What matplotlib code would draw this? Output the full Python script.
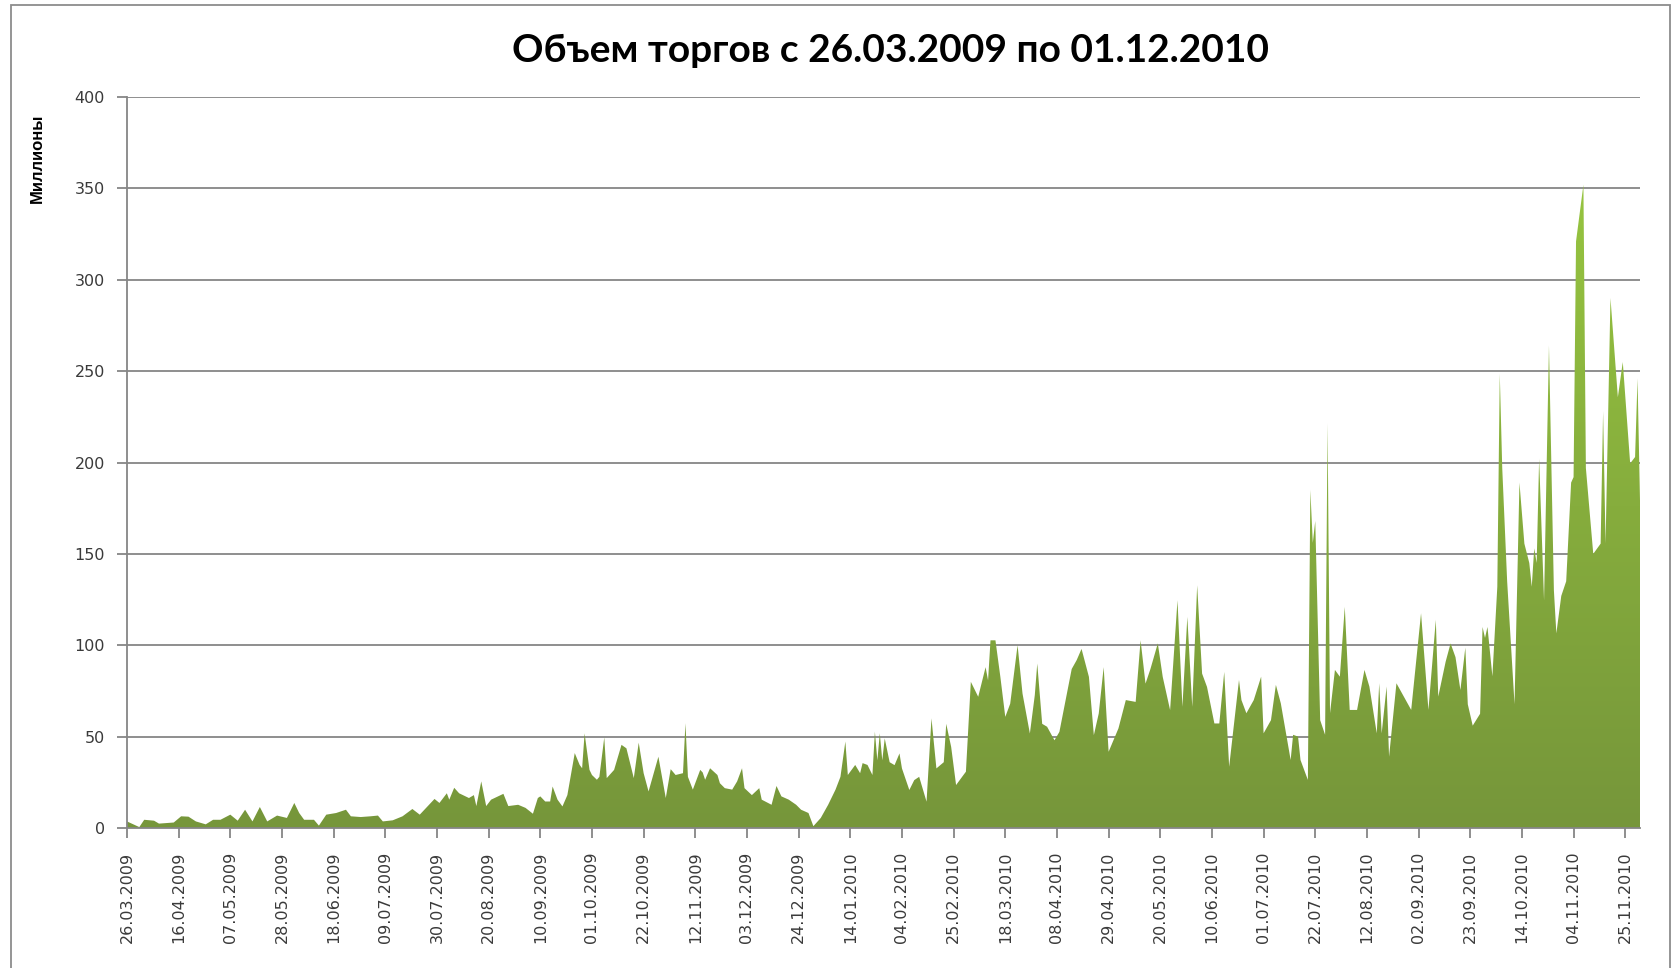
import numpy as np
import pandas as pd
import matplotlib
matplotlib.use('Agg')
import matplotlib.pyplot as plt
import matplotlib.dates as mdates
from matplotlib.colors import LinearSegmentedColormap
from matplotlib.patches import Rectangle

title = 'Объем торгов с 26.03.2009 по 01.12.2010'
ylabel = 'Миллионы'
start = '2009-03-26'
end = '2010-12-01'

# trading day (days after 26.03.2009) and volume in millions
days = [0, 5, 7, 11, 13, 19, 22, 25, 28, 32, 35, 38, 42, 45, 48, 51, 54, 57, 61, 65,
        68, 70, 72, 76, 78, 81, 85, 89, 91, 95, 99, 102, 104, 108, 112, 116, 119, 125, 127, 130,
        131, 133, 135, 139, 141, 142, 144, 146, 148, 153, 155, 159, 162, 165, 167, 168, 170, 172, 173, 175,
        177, 179, 182, 184, 185, 186, 188, 189, 191, 192, 194, 195, 198, 201, 203, 206, 208, 210, 212, 216,
        219, 221, 223, 226, 227, 228, 230, 233, 234, 235, 237, 240, 241, 243, 246, 248, 250, 251, 254, 257,
        258, 262, 264, 266, 269, 272, 274, 277, 279, 282, 285, 288, 290, 292, 293, 296, 298, 299, 301, 303,
        304, 305, 306, 307, 308, 310, 312, 314, 315, 318, 320, 322, 325, 327, 329, 332, 333, 335, 337, 340,
        341, 343, 346, 349, 350, 351, 353, 355, 357, 359, 362, 364, 367, 369, 370, 372, 374, 377, 379, 384,
        386, 388, 391, 393, 395, 397, 399, 403, 406, 410, 412, 414, 416, 419, 421, 424, 427, 429, 431, 433,
        435, 437, 439, 442, 444, 446, 448, 452, 453, 455, 458, 461, 462, 465, 467, 469, 473, 474, 476, 477,
        480, 481, 482, 483, 485, 487, 488, 489, 491, 493, 495, 497, 500, 503, 505, 508, 509, 510, 512, 513,
        516, 522, 526, 529, 532, 533, 536, 538, 540, 542, 544, 545, 547, 550, 551, 552, 553, 555, 557, 558,
        559, 561, 564, 566, 568, 570, 571, 572, 573, 574, 576, 578, 580, 581, 583, 585, 587, 588, 589, 592,
        593, 596, 599, 600, 601, 603, 606, 608, 611, 613, 614, 615]
vols = [3.6, 0.5, 4.5, 4.0, 2.4, 3.0, 6.4, 6.2, 3.6, 2.0, 4.5, 4.5, 7.3, 4.0, 10.0, 3.6, 11.5, 3.6, 6.8, 5.5,
        13.7, 8.2, 4.5, 4.5, 1.3, 7.3, 8.2, 10.0, 6.4, 6.0, 6.4, 6.8, 3.6, 4.2, 6.4, 10.4, 7.3, 15.9, 13.7, 19.0,
        15.5, 22.0, 19.0, 16.4, 18.0, 12.0, 25.5, 12.0, 15.5, 18.7, 12.0, 12.7, 11.0, 7.8, 16.4, 17.3, 14.5, 14.5, 22.7, 15.5,
        11.8, 18.0, 41.0, 34.5, 32.7, 51.8, 31.8, 29.0, 26.4, 28.0, 49.6, 27.3, 31.8, 45.5, 43.6, 27.3, 46.7, 30.0, 20.0, 39.0,
        16.4, 32.2, 29.0, 30.0, 57.3, 28.0, 21.0, 31.8, 30.4, 26.4, 32.7, 29.0, 24.5, 21.8, 21.0, 25.5, 32.7, 21.8, 18.0, 21.8,
        15.5, 12.7, 23.0, 17.3, 15.5, 12.7, 10.0, 8.2, 1.0, 5.5, 12.7, 21.0, 28.0, 47.3, 29.0, 34.5, 30.0, 35.5, 34.5, 29.0,
        52.7, 37.0, 51.8, 37.0, 49.0, 36.0, 34.4, 40.8, 32.6, 20.8, 26.2, 28.0, 14.4, 60.0, 32.6, 36.0, 57.0, 44.4, 23.5, 29.0,
        30.8, 80.0, 71.8, 88.0, 80.8, 102.7, 102.7, 82.7, 60.8, 68.0, 100.0, 73.6, 51.7, 72.7, 90.0, 57.0, 55.4, 48.0, 52.6, 87.0,
        91.8, 98.0, 82.7, 50.8, 62.7, 88.0, 41.7, 54.5, 70.0, 69.0, 102.7, 79.0, 87.0, 101.0, 82.7, 64.5, 124.6, 66.3, 115.5, 66.3,
        132.8, 84.5, 77.2, 57.2, 57.2, 85.4, 33.5, 81.0, 70.0, 62.8, 70.0, 82.8, 51.8, 59.0, 78.3, 68.2, 37.2, 51.0, 50.0, 37.2,
        26.3, 185.0, 156.0, 168.0, 59.0, 51.0, 221.5, 62.8, 86.5, 82.8, 121.0, 64.6, 64.6, 86.5, 77.4, 51.8, 79.2, 51.8, 77.4, 39.0,
        79.2, 64.6, 117.5, 64.6, 113.9, 71.9, 91.0, 101.0, 93.5, 75.5, 98.7, 67.7, 56.0, 62.5, 110.0, 104.0, 110.0, 83.0, 132.0, 248.6,
        197.0, 135.0, 67.7, 189.0, 155.6, 145.0, 132.0, 153.0, 145.0, 202.0, 124.5, 264.0, 130.0, 106.5, 127.0, 135.0, 189.0, 192.0, 321.0, 352.0,
        197.0, 150.0, 155.6, 228.0, 155.6, 290.0, 235.7, 255.0, 199.5, 203.0, 246.0, 179.0]

yticks = [0, 50, 100, 150, 200, 250, 300, 350, 400]

dates = pd.Timestamp(start) + pd.to_timedelta(days, unit='D')
x = mdates.date2num(dates)
x0 = mdates.date2num(pd.Timestamp(start))
x1 = mdates.date2num(pd.Timestamp(end))

fig = plt.figure(figsize=(16.73, 9.68), dpi=100)
ax = fig.add_axes([127/1673, 1-828/968, (1640-127)/1673, (828-97)/968])

# area with vertical gradient (excel style)
poly = ax.fill_between(x, vols, 0, facecolor='none', edgecolor='none')
cmap = LinearSegmentedColormap.from_list('grn', ['#76963A', '#96C440'])
grad = np.linspace(0, 1, 256).reshape(-1, 1)
im = ax.imshow(grad, cmap=cmap, origin='lower', aspect='auto',
               extent=[x[0], x[-1], 0, max(vols)], zorder=2, interpolation='bilinear')
im.set_clip_path(poly.get_paths()[0], transform=ax.transData)

ax.set_xlim(x0, x1)
ax.set_ylim(0, 400)
ax.set_yticks(yticks)
ax.yaxis.grid(True, color='#868686', lw=1.3, zorder=0)
ax.set_axisbelow(True)

ticks = pd.date_range(start, end, freq='21D')
ax.set_xticks(mdates.date2num(ticks))
ax.xaxis.set_major_formatter(mdates.DateFormatter('%d.%m.%Y'))
plt.setp(ax.get_xticklabels(), rotation=90)

for s in ['top', 'right']:
    ax.spines[s].set_visible(False)
for s in ['left', 'bottom']:
    ax.spines[s].set_color('#868686')
    ax.spines[s].set_linewidth(1.3)
    ax.spines[s].set_zorder(3)
ax.tick_params(axis='both', colors='#868686', width=1.3, length=7, labelcolor='#3a3a3a', labelsize=11.5)
ax.tick_params(axis='x', pad=10)
ax.tick_params(axis='y', pad=9)

fig.text(891/1673, 1-50/968, title, ha='center', va='center', fontsize=28,
         fontweight='bold', family=['Lato', 'DejaVu Sans'])
fig.text(37/1673, 1-158/968, ylabel, rotation=90, ha='center', va='center',
         fontsize=12, fontweight='bold', family=['Liberation Sans', 'DejaVu Sans'])

fig.add_artist(Rectangle((11/1673, -0.02), (1670-11)/1673, 1.02-5/968, transform=fig.transFigure,
                         fill=False, edgecolor='#8c8c8c', lw=1.3))

fig.savefig('out.png', dpi=100)
